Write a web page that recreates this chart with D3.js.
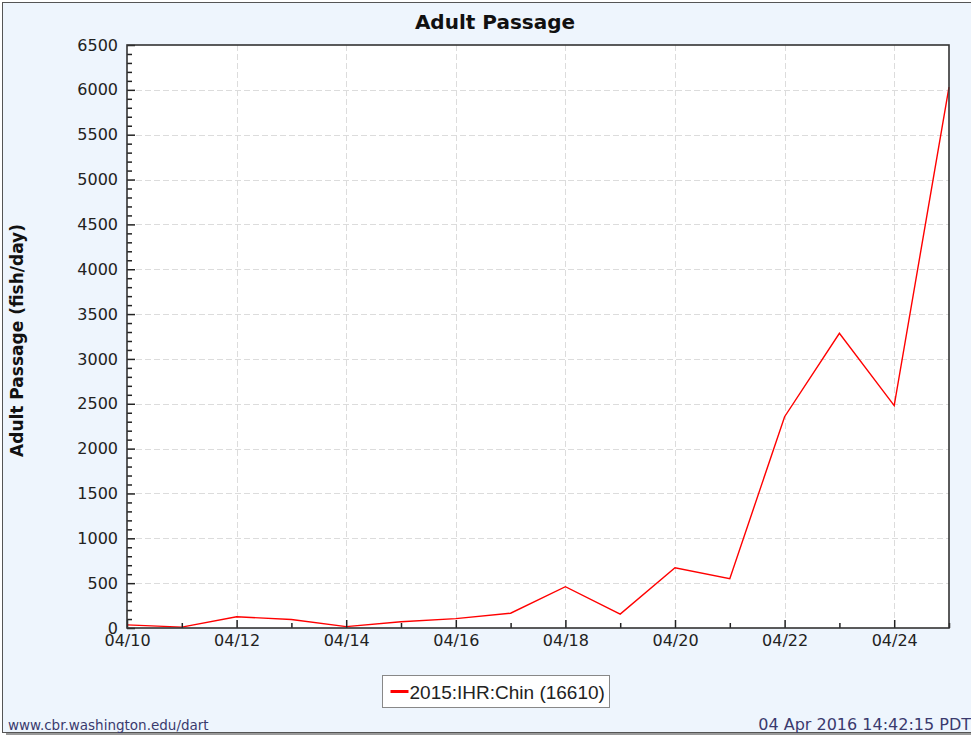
<!DOCTYPE html>
<html>
<head>
<meta charset="utf-8">
<script src="https://cdn.jsdelivr.net/npm/d3@7"></script>
<style>
  body { margin: 0; background: #fff; }
  svg { display: block; }
</style>
</head>
<body>
<svg id="chart"></svg>
<script>
// daily adult passage, 2015 IHR Chinook
var days = ["2015-04-10", "2015-04-11", "2015-04-12", "2015-04-13", "2015-04-14", "2015-04-15",
            "2015-04-16", "2015-04-17", "2015-04-18", "2015-04-19", "2015-04-20", "2015-04-21",
            "2015-04-22", "2015-04-23", "2015-04-24", "2015-04-25"];
var passage = [35, 10, 125, 95, 15, 70, 105, 165, 460, 155, 672, 549, 2356, 3286, 2480, 6030];
var yMajor = [0, 500, 1000, 1500, 2000, 2500, 3000, 3500, 4000, 4500, 5000, 5500, 6000, 6500];
var seriesName = "2015:IHR:Chin (16610)";

var W = 971, H = 738;
var margin = {top: 45, right: 22, bottom: 110, left: 127},
    width = W - margin.left - margin.right,
    height = H - margin.top - margin.bottom;

var parse = d3.utcParse("%Y-%m-%d");
var data = days.map(function (d, i) {
	return {date: parse(d), value: passage[i]};
});

var svg = d3.select("#chart")
		.attr("width", W)
		.attr("height", H);

// page background + frame
svg.append("rect")
		.attr("x", 0).attr("y", 0)
		.attr("width", W).attr("height", H)
		.attr("fill", "#ffffff");
svg.append("rect")
		.attr("x", 2.5).attr("y", 2.5)
		.attr("width", W + 5).attr("height", 730)
		.attr("fill", "#eef5fd")
		.attr("stroke", "#555")
		.attr("stroke-width", 1);
svg.append("line")
		.attr("x1", 6).attr("x2", W)
		.attr("y1", 734).attr("y2", 734)
		.attr("stroke", "#999")
		.attr("stroke-width", 2);

var x = d3.scaleUtc()
		.domain(d3.extent(data, function (d) { return d.date; }))
		.range([0, width]);

var y = d3.scaleLinear()
		.domain([0, 6500])
		.range([height, 0]);

var g = svg.append("g")
		.attr("transform", "translate(" + margin.left + "," + margin.top + ")");

g.append("rect")
		.attr("width", width)
		.attr("height", height)
		.attr("fill", "#ffffff");

var evenDays = data.filter(function (d, i) { return i % 2 === 0; }).map(function (d) { return d.date; });
var oddDays = data.filter(function (d, i) { return i % 2 === 1; }).map(function (d) { return d.date; });
var yMinor = d3.range(0, 6501, 100).filter(function (v) { return v % 500 !== 0; });

// grid
g.append("g")
		.selectAll("line")
		.data(yMajor.slice(1, -1))
		.enter().append("line")
		.attr("x1", 0).attr("x2", width)
		.attr("y1", function (d) { return Math.round(y(d)) + 0.5; })
		.attr("y2", function (d) { return Math.round(y(d)) + 0.5; })
		.attr("stroke", "#dcdcdc")
		.attr("stroke-dasharray", "6,3");

g.append("g")
		.selectAll("line")
		.data(evenDays.slice(1))
		.enter().append("line")
		.attr("y1", 0).attr("y2", height)
		.attr("x1", function (d) { return Math.round(x(d)) + 0.5; })
		.attr("x2", function (d) { return Math.round(x(d)) + 0.5; })
		.attr("stroke", "#dcdcdc")
		.attr("stroke-dasharray", "6,3");

// series
var line = d3.line()
		.x(function (d) { return x(d.date); })
		.y(function (d) { return y(d.value); });

g.append("path")
		.datum(data)
		.attr("fill", "none")
		.attr("stroke", "#ff0000")
		.attr("stroke-width", 1.4)
		.attr("d", line);

// axes (ticks point into the plot)
var tickFont = "'DejaVu Sans', sans-serif";

var yAxis = g.append("g")
		.call(d3.axisLeft(y).tickValues(yMajor).tickSizeInner(-8).tickSizeOuter(0)
				.tickPadding(9).tickFormat(d3.format("d")));
g.append("g")
		.call(d3.axisLeft(y).tickValues(yMinor).tickSizeInner(-5).tickSizeOuter(0).tickFormat(""));

var xAxis = g.append("g")
		.attr("transform", "translate(0," + height + ")")
		.call(d3.axisBottom(x).tickValues(evenDays).tickSizeInner(-8).tickSizeOuter(0)
				.tickPadding(7).tickFormat(d3.utcFormat("%m/%d")));
g.append("g")
		.attr("transform", "translate(0," + height + ")")
		.call(d3.axisBottom(x).tickValues(oddDays).tickSizeInner(-5).tickSizeOuter(0).tickFormat(""));

g.selectAll(".domain").remove();
g.selectAll(".tick line").attr("stroke", "#222").attr("stroke-width", 1.5);
yAxis.selectAll("text").style("font-family", tickFont).style("font-size", "16px").attr("fill", "#222");
xAxis.selectAll("text").style("font-family", tickFont).style("font-size", "16px").attr("fill", "#222");

// plot frame
g.append("rect")
		.attr("width", width)
		.attr("height", height)
		.attr("fill", "none")
		.attr("stroke", "#333")
		.attr("stroke-width", 1.6);

// title
svg.append("text")
		.attr("x", 495)
		.attr("y", 29)
		.attr("text-anchor", "middle")
		.style("font-family", "'DejaVu Sans', sans-serif")
		.style("font-weight", "bold")
		.style("font-size", "20px")
		.attr("fill", "#111")
		.text("Adult Passage");

// y label
svg.append("text")
		.attr("transform", "translate(23," + (margin.top + height / 2 + 4) + ")rotate(-90)")
		.attr("text-anchor", "middle")
		.style("font-family", "'DejaVu Sans', sans-serif")
		.style("font-weight", "bold")
		.style("font-size", "17px")
		.attr("fill", "#111")
		.text("Adult Passage (fish/day)");

// legend
var legend = svg.append("g")
		.attr("class", "legend")
		.attr("transform", "translate(382.5,675.5)");
legend.append("rect")
		.attr("width", 227)
		.attr("height", 32)
		.attr("fill", "#fff")
		.attr("stroke", "#888");
legend.append("line")
		.attr("x1", 8).attr("x2", 26)
		.attr("y1", 16).attr("y2", 16)
		.attr("stroke", "#ff0000")
		.attr("stroke-width", 3);
legend.append("text")
		.attr("x", 27)
		.attr("y", 23)
		.style("font-family", "'Liberation Sans', Arial, sans-serif")
		.style("font-size", "19px")
		.attr("fill", "#222")
		.text(seriesName);

// footer
svg.append("text")
		.attr("x", 8)
		.attr("y", 730)
		.style("font-family", "'DejaVu Sans', sans-serif")
		.style("font-size", "13.5px")
		.attr("fill", "#3a3a6e")
		.text("www.cbr.washington.edu/dart");
svg.append("text")
		.attr("x", 971)
		.attr("y", 730)
		.attr("text-anchor", "end")
		.style("font-family", "'DejaVu Sans', sans-serif")
		.style("font-size", "16px")
		.attr("fill", "#3a3a6e")
		.text("04 Apr 2016 14:42:15 PDT");
</script>
</body>
</html>
